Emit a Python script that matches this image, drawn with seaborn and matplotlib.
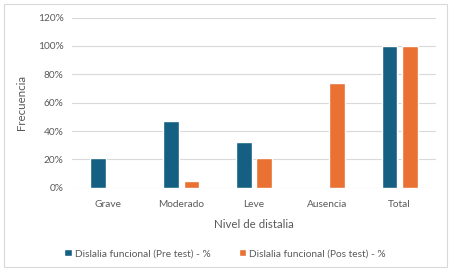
import matplotlib
matplotlib.use("Agg")
import matplotlib.pyplot as plt
import seaborn as sns
import pandas as pd
from matplotlib.patches import Rectangle

categories = ["Grave", "Moderado", "Leve", "Ausencia", "Total"]
pre_test = [21, 47, 32, 0, 100]
pos_test = [0, 5, 21, 74, 100]
series_names = ["Dislalia funcional (Pre test) - %", "Dislalia funcional (Pos test) - %"]
y_ticks = [0, 20, 40, 60, 80, 100, 120]

df = pd.DataFrame({
    "Nivel": categories * 2,
    "Valor": pre_test + pos_test,
    "Serie": [series_names[0]] * len(categories) + [series_names[1]] * len(categories),
})

sns.set_theme(style="white")
plt.rcParams["font.family"] = ["Lato", "DejaVu Sans"]
text_color = "#595959"

fig = plt.figure(figsize=(4.5, 2.71), dpi=100)
ax = fig.add_axes([0.16, 0.307, 0.809, 0.628])

sns.barplot(data=df, x="Nivel", y="Valor", hue="Serie", order=categories,
            hue_order=series_names, palette=["#156082", "#E97132"],
            saturation=1, width=0.56, gap=0.23, ax=ax, legend=True)

ax.set_ylim(0, 120)
ax.set_yticks(y_ticks)
ax.set_yticklabels([f"{v}%" for v in y_ticks])
ax.set_xlim(-0.5, len(categories) - 0.5)
ax.grid(axis="y", color="#d9d9d9", linewidth=0.8)
ax.set_axisbelow(True)
for s in ax.spines.values():
    s.set_visible(False)
ax.tick_params(axis="both", length=0, colors=text_color, labelsize=7.3)
ax.tick_params(axis="y", pad=6)
ax.tick_params(axis="x", pad=9)
ax.set_xlabel("Nivel de distalia", color=text_color, fontsize=8.3, labelpad=7)
ax.set_ylabel("Frecuencia", color=text_color, fontsize=8.3, labelpad=8)

handles, labels = ax.get_legend_handles_labels()
ax.get_legend().remove()
fig.legend(handles, labels, loc="center", bbox_to_anchor=(0.5, 0.063), ncol=2,
           frameon=False, fontsize=7.3, labelcolor=text_color, handlelength=0.7,
           handleheight=0.7, handletextpad=0.3, columnspacing=2.8)

fig.patches.append(Rectangle((0.009, 0.015), 0.984, 0.97, transform=fig.transFigure,
                             fill=False, edgecolor="#d9d9d9", linewidth=0.8))

fig.savefig("out.png", dpi=100)
